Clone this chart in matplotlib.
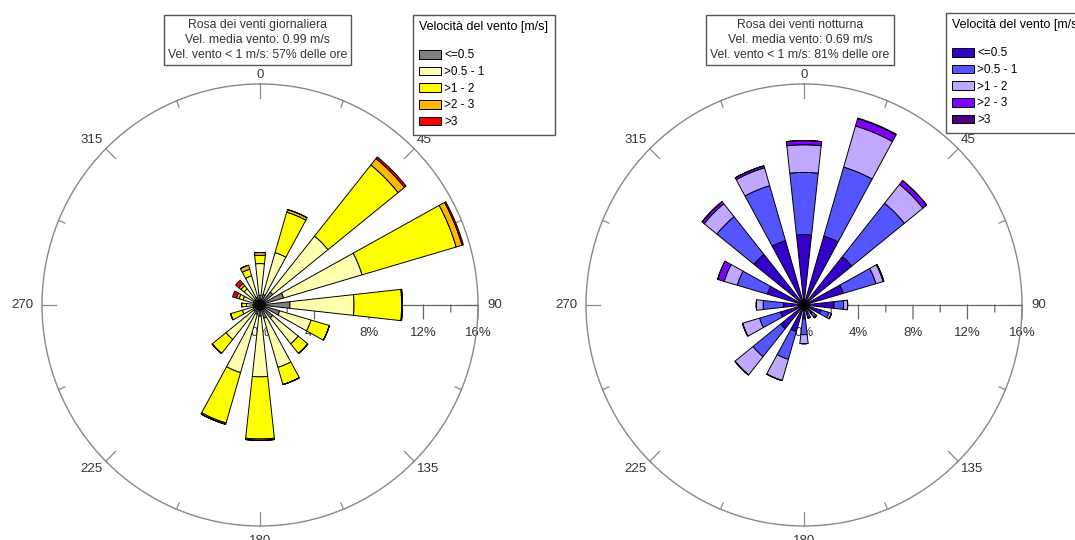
import numpy as np
import matplotlib
matplotlib.use('Agg')
import matplotlib.pyplot as plt
from matplotlib.patches import Patch

plt.rcParams['font.family'] = ['Liberation Sans', 'DejaVu Sans']

# 16 wind sectors (degrees, clockwise from north)
directions = np.arange(0, 360, 22.5)
speed_classes = ['<=0.5', '>0.5 - 1', '>1 - 2', '>2 - 3', '>3']
legend_title = 'Velocità del vento [m/s]'
compass_labels = ['0', '45', '90', '135', '180', '225', '270', '315']

# % of hours per sector and speed class - daytime
day_le05 = [0.7, 0.8, 1.2, 1.8, 2.2, 1.5, 1.2, 1.0, 0.8, 0.7, 0.6, 0.5, 0.5, 0.5, 0.5, 0.6]
day_05_1 = [2.3, 3.15, 5.2, 6.0, 4.7, 2.4, 2.4, 3.7, 4.4, 4.4, 2.6, 0.85, 0.5, 0.8, 1.0, 1.6]
day_1_2 = [0.6, 3.05, 6.6, 7.2, 3.5, 1.4, 0.9, 1.3, 4.5, 3.8, 1.3, 0.9, 0.35, 0.3, 0.3, 0.5]
day_2_3 = [0.2, 0.2, 0.6, 0.45, 0.05, 0.0, 0.0, 0.0, 0.1, 0.1, 0.0, 0.0, 0.0, 0.2, 0.2, 0.3]
day_gt3 = [0.0, 0.0, 0.15, 0.1, 0.0, 0.0, 0.0, 0.0, 0.0, 0.0, 0.0, 0.0, 0.0, 0.3, 0.3, 0.0]

# % of hours per sector and speed class - night-time
night_le05 = [5.1, 5.2, 4.5, 3.0, 2.2, 1.3, 0.8, 0.7, 1.0, 2.0, 2.2, 1.8, 1.5, 2.8, 4.7, 4.85]
night_05_1 = [4.5, 5.2, 4.95, 2.5, 0.7, 0.6, 0.3, 0.2, 1.15, 2.1, 2.6, 1.6, 1.5, 2.3, 3.5, 4.15]
night_1_2 = [2.0, 3.1, 1.75, 0.55, 0.3, 0.2, 0.1, 0.1, 0.65, 1.6, 1.7, 1.3, 0.5, 1.0, 1.2, 1.35]
night_2_3 = [0.3, 0.55, 0.35, 0.05, 0.0, 0.0, 0.0, 0.0, 0.0, 0.0, 0.0, 0.0, 0.0, 0.5, 0.2, 0.15]
night_gt3 = [0.0, 0.05, 0.0, 0.0, 0.0, 0.0, 0.0, 0.0, 0.0, 0.0, 0.0, 0.0, 0.0, 0.0, 0.0, 0.0]

day_colors = ['#808080', '#FFFFB0', '#FFFF00', '#FFB800', '#FF0000']
night_colors = ['#3300CC', '#5555FF', '#C0A8FF', '#8000FF', '#4B0082']

day_title = 'Rosa dei venti giornaliera\nVel. media vento: 0.99 m/s\nVel. vento < 1 m/s: 57% delle ore'
night_title = 'Rosa dei venti notturna\nVel. media vento: 0.69 m/s\nVel. vento < 1 m/s: 81% delle ore'

W, H = 1075, 540
fig = plt.figure(figsize=(W / 100, H / 100), dpi=100)

AXIS_GREY = '#888888'
TEXT_COL = '#333333'
# pixel offsets of the compass labels from the outer circle
label_offsets = [(0, 9), (10, 9), (17, 0), (14, -8), (0, -15), (-14, -8), (-20, 0), (-14, 9)]


def draw_rose(cx, cy, rx, ry, series, colors):
    rect = [(cx - rx) / W, (H - cy - ry) / H, 2 * rx / W, 2 * ry / H]
    ax = fig.add_axes(rect, projection='polar')
    ax.set_aspect('auto')  # the original is very slightly stretched vertically
    ax.set_theta_zero_location('N')
    ax.set_theta_direction(-1)

    theta = np.deg2rad(directions)
    bottom = np.zeros(len(directions))
    for vals, col in zip(series, colors):
        vals = np.array(vals)
        ax.bar(theta, vals, width=np.deg2rad(12.5), bottom=bottom, color=col,
               edgecolor='black', linewidth=0.7, zorder=3)
        bottom += vals

    ax.set_ylim(0, 16)
    ax.grid(False)
    ax.set_yticks([])
    ax.set_xticks([])
    ax.spines['polar'].set_color(AXIS_GREY)
    ax.spines['polar'].set_linewidth(1.0)

    # compass labels
    for lab, a, off in zip(compass_labels, range(0, 360, 45), label_offsets):
        ax.annotate(lab, xy=(np.deg2rad(a), 16), xytext=off, textcoords='offset pixels',
                    ha='center', va='center', fontsize=9.5, color=TEXT_COL,
                    annotation_clip=False)

    # tick marks on the outer circle
    for a in np.arange(0, 360, 22.5):
        inner = 15.0 if a % 45 == 0 else 15.5
        ax.plot([np.deg2rad(a)] * 2, [inner, 16], color=AXIS_GREY, lw=0.9,
                zorder=1, clip_on=False)

    # radial scale along the 90 degree direction
    ax.plot([np.pi / 2] * 2, [0, 16], color='#666666', lw=0.9, zorder=1)
    for r in range(2, 17, 2):
        L = 14 if r % 4 == 0 else 7
        ax.annotate('', xy=(np.pi / 2, r), xytext=(0, -L), textcoords='offset pixels',
                    arrowprops=dict(arrowstyle='-', color='#666666', lw=0.9,
                                    shrinkA=0, shrinkB=0), zorder=1)
    for r in range(0, 17, 4):
        ax.annotate(f'{r}%', xy=(np.pi / 2, r), xytext=(0, -28), textcoords='offset pixels',
                    ha='center', va='center', fontsize=9.5, color=TEXT_COL, zorder=1)
    return ax


draw_rose(260, 305, 218, 221, [day_le05, day_05_1, day_1_2, day_2_3, day_gt3], day_colors)
draw_rose(804, 305, 218, 221, [night_le05, night_05_1, night_1_2, night_2_3, night_gt3], night_colors)

# title boxes
box = dict(boxstyle='square,pad=0.35', facecolor='white', edgecolor='#555555', linewidth=1.0)
fig.text(257.5 / W, 1 - 40 / H, day_title, ha='center', va='center', fontsize=8.8,
         color=TEXT_COL, linespacing=1.35, bbox=box)
fig.text(800 / W, 1 - 40 / H, night_title, ha='center', va='center', fontsize=8.8,
         color=TEXT_COL, linespacing=1.35, bbox=box)

# legends
for colors, x0, y0 in [(day_colors, 413, 15), (night_colors, 946, 13)]:
    handles = [Patch(facecolor=c, edgecolor='black', linewidth=0.7) for c in colors]
    leg = fig.legend(handles, speed_classes, title=legend_title + '\n', loc='upper left',
                     bbox_to_anchor=(x0 / W, 1 - y0 / H), fontsize=8.5, title_fontsize=9,
                     alignment='left', frameon=True, fancybox=False, edgecolor='#555555',
                     framealpha=1, borderpad=0.55, labelspacing=0.4, handlelength=1.8,
                     handleheight=0.75, handletextpad=0.3, borderaxespad=0)
    leg.get_title().set_linespacing(0.9)

fig.savefig('out.png', dpi=100)
